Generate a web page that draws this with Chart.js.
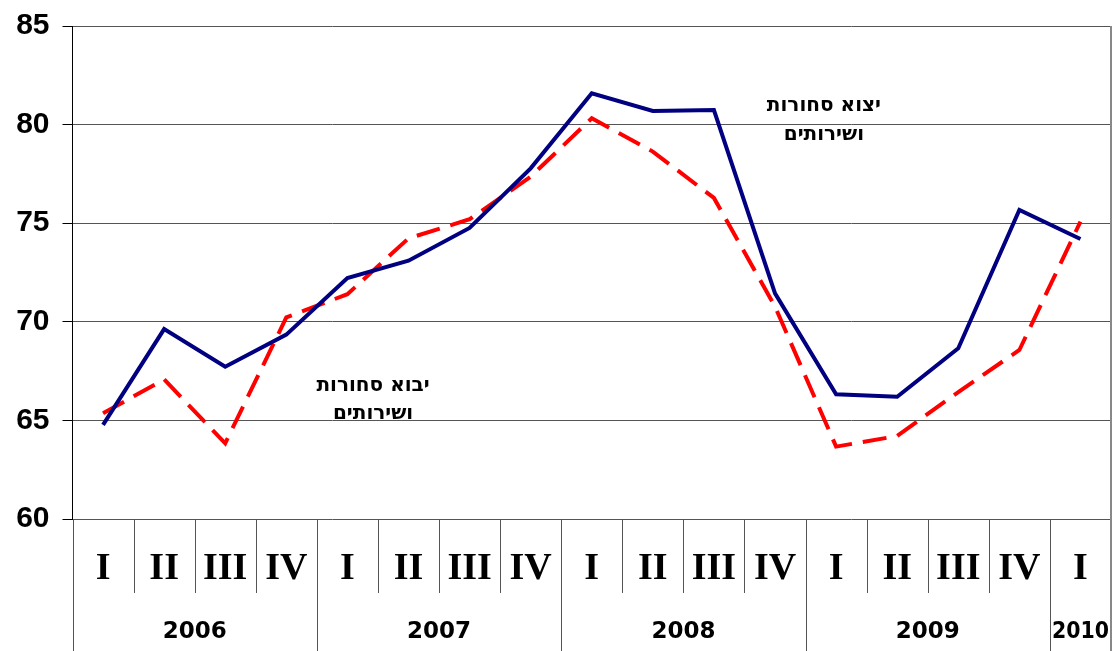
<!DOCTYPE html>
<html>
<head>
<meta charset="utf-8">
<script src="https://cdn.jsdelivr.net/npm/chart.js@4"></script>
<style>
  html, body { margin: 0; padding: 0; background: #fff; }
  #wrap { width: 1117px; height: 651px; }
</style>
</head>
<body>
<div id="wrap"><canvas id="chart" width="1117" height="651"></canvas></div>
<script>
// quarters 2006 I .. 2010 I
const quarters = ['I', 'II', 'III', 'IV', 'I', 'II', 'III', 'IV', 'I', 'II', 'III', 'IV', 'I', 'II', 'III', 'IV', 'I'];
const years = ['2006', '2007', '2008', '2009', '2010'];
const yearSpans = [4, 4, 4, 4, 1];
const exportsVals = [64.77, 69.63, 67.72, 69.35, 72.22, 73.1, 74.76, 77.78, 81.59, 80.69, 80.74, 71.44, 66.32, 66.2, 68.66, 75.67, 74.2];
const importsVals = [65.36, 67.08, 63.84, 70.22, 71.4, 74.23, 75.2, 77.36, 80.32, 78.63, 76.28, 70.77, 63.67, 64.21, 66.44, 68.57, 75.08];
const yMin = 60, yMax = 85, yStep = 5;
// series labels placed in data units: [category index, value]
const notes = [
  { lines: ['יצוא סחורות', 'ושירותים'], at: [11.8, 80.97], gap: 1.5 },
  { lines: ['יבוא סחורות', 'ושירותים'], at: [4.42, 66.74], gap: 1.42 }
];

const axisPlugin = {
  id: 'twoLevelAxis',
  afterDraw(chart) {
    const ctx = chart.ctx;
    const x = chart.scales.x;
    const y = chart.scales.y;
    const area = chart.chartArea;
    const H = chart.height;
    const step = x.getPixelForValue(1) - x.getPixelForValue(0);
    ctx.save();
    // separators
    const yearEdges = [0];
    yearSpans.reduce((acc, n) => { yearEdges.push(acc + n); return acc + n; }, 0);
    for (let i = 0; i < quarters.length; i++) {
      const px = Math.round(x.getPixelForValue(i) - step / 2) + 0.5;
      const isYear = yearEdges.includes(i);
      ctx.strokeStyle = '#555';
      ctx.lineWidth = 1;
      ctx.beginPath();
      ctx.moveTo(px, area.bottom);
      ctx.lineTo(px, isYear ? H : area.bottom + 74);
      ctx.stroke();
    }
    // right border
    ctx.strokeStyle = '#888';
    ctx.lineWidth = 2;
    ctx.beginPath();
    ctx.moveTo(area.right, area.top);
    ctx.lineTo(area.right, H);
    ctx.stroke();
    // quarter labels
    ctx.fillStyle = '#000';
    ctx.textAlign = 'center';
    ctx.textBaseline = 'middle';
    ctx.font = 'bold 38px "Liberation Serif", serif';
    quarters.forEach((q, i) => ctx.fillText(q, x.getPixelForValue(i), area.bottom + 50));
    // year labels
    ctx.font = 'bold 23px "DejaVu Sans", sans-serif';
    let start = 0;
    years.forEach((yr, k) => {
      const n = yearSpans[k];
      const cx = (x.getPixelForValue(start) + x.getPixelForValue(start + n - 1)) / 2;
      ctx.fillText(yr, cx, area.bottom + 113, n * step - 4);
      start += n;
    });
    // series notes
    ctx.font = 'bold 20px "DejaVu Sans", sans-serif';
    ctx.direction = 'rtl';
    ctx.textAlign = 'center';
    notes.forEach(nt => {
      nt.lines.forEach((t, j) => {
        ctx.fillText(t, x.getPixelForValue(nt.at[0]), y.getPixelForValue(nt.at[1] - j * nt.gap));
      });
    });
    ctx.restore();
  }
};

new Chart(document.getElementById('chart').getContext('2d'), {
  type: 'line',
  data: {
    labels: quarters.map((q, i) => q + '_' + i),
    datasets: [
      { label: 'exports', data: exportsVals, borderColor: '#000080', borderWidth: 4, pointRadius: 0, tension: 0, fill: false },
      { label: 'imports', data: importsVals, borderColor: '#ff0000', borderWidth: 4, borderDash: [24, 11], pointRadius: 0, tension: 0, fill: false }
    ]
  },
  options: {
    responsive: false,
    animation: false,
    layout: { padding: { top: 26, right: 6, left: 0, bottom: 0 } },
    plugins: { legend: { display: false }, tooltip: { enabled: false } },
    scales: {
      x: {
        type: 'category',
        offset: true,
        grid: { display: false },
        border: { display: false },
        ticks: { display: false },
        afterFit(s) { s.height = 132; }
      },
      y: {
        min: yMin,
        max: yMax,
        ticks: {
          stepSize: yStep,
          padding: 13,
          color: '#000',
          font: { family: '"Liberation Sans", sans-serif', size: 30, weight: 'bold' }
        },
        grid: { color: '#555', lineWidth: 1, tickLength: 10, tickColor: '#000' },
        border: { display: true, color: '#000', width: 1 },
        afterFit(s) { s.width = 72.5; s.paddingTop = 0; s.paddingBottom = 0; }
      }
    }
  },
  plugins: [axisPlugin]
});
</script>
</body>
</html>
